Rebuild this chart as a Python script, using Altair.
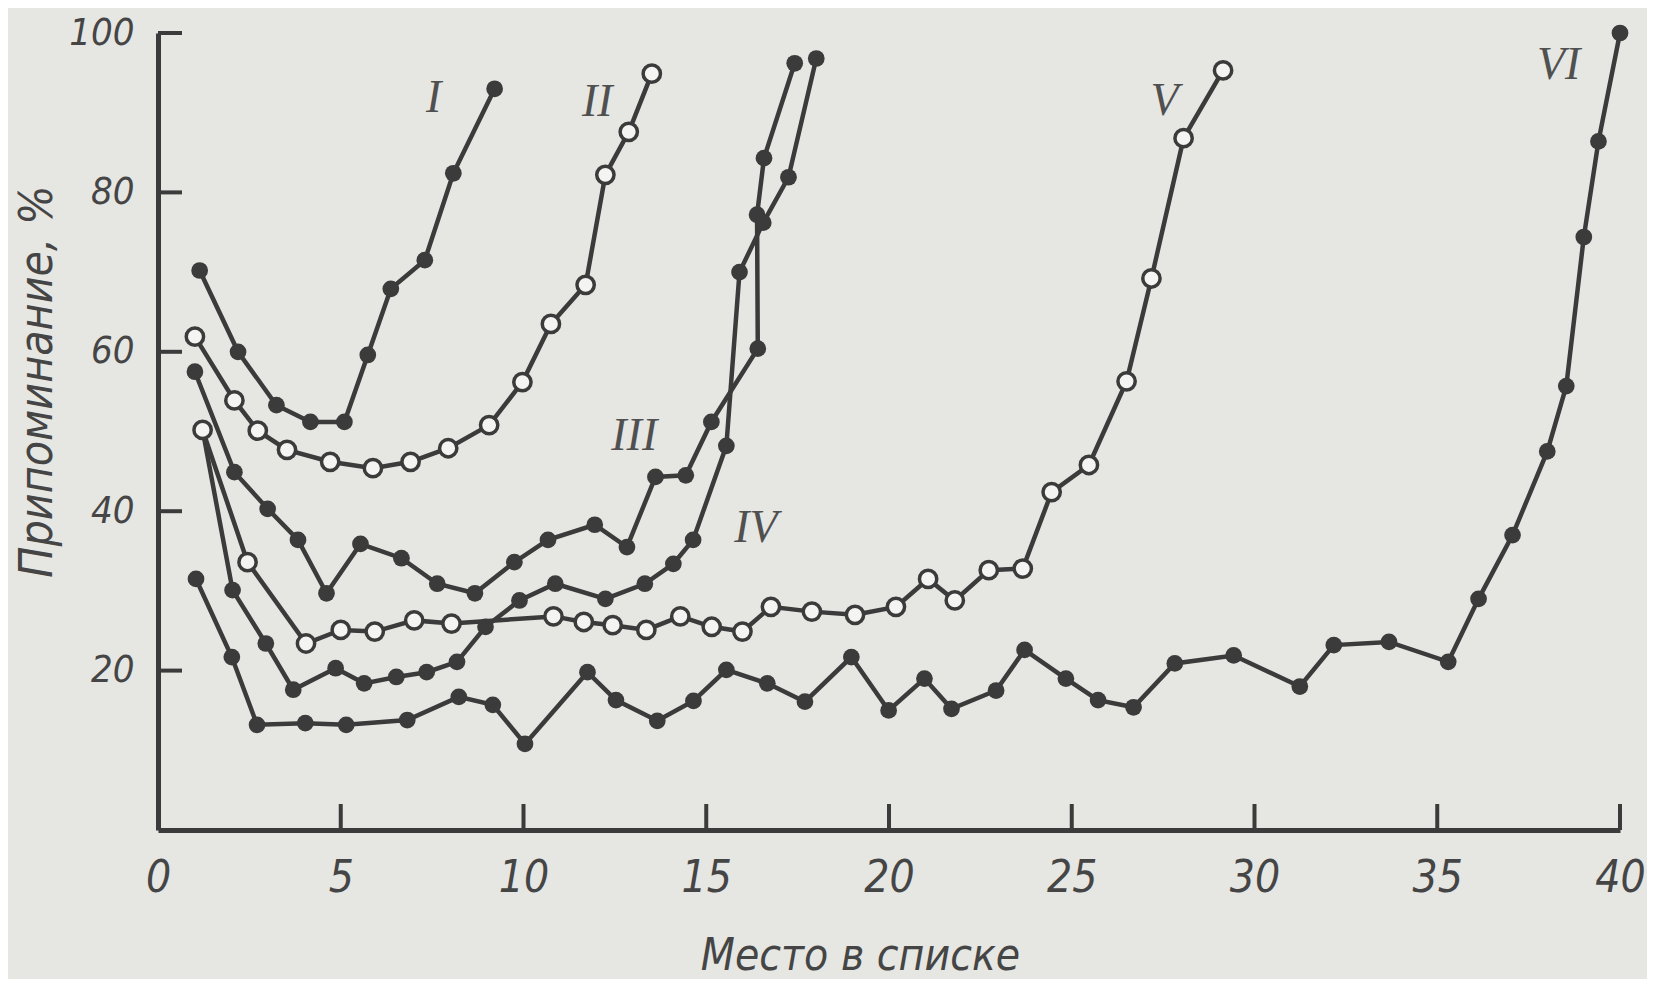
import altair as alt
import pandas as pd

# ---- data ----
I_x = [1.14, 2.19, 3.24, 4.17, 5.10, 5.74, 6.37, 7.30, 8.08, 9.21]
I_y = [70.2, 60.0, 53.3, 51.2, 51.2, 59.6, 67.9, 71.5, 82.4, 93.0]

II_x = [1.01, 2.09, 2.73, 3.53, 4.71, 5.88, 6.91, 7.94, 9.06, 9.97, 10.75, 11.70, 12.24, 12.88, 13.51]
II_y = [61.9, 53.9, 50.1, 47.7, 46.2, 45.4, 46.2, 47.9, 50.8, 56.2, 63.5, 68.4, 82.2, 87.6, 94.9]

III_x = [1.01, 2.09, 3.00, 3.83, 4.61, 5.54, 6.66, 7.64, 8.67, 9.75, 10.67, 11.95, 12.83,
         13.61, 14.44, 15.14, 16.41, 16.39, 16.58, 17.42]
III_y = [57.5, 44.9, 40.3, 36.4, 29.7, 35.9, 34.1, 30.9, 29.7, 33.6, 36.4, 38.3, 35.5,
         44.3, 44.5, 51.2, 60.4, 77.2, 84.3, 96.2]

IV_x = [1.22, 2.04, 2.95, 3.70, 4.86, 5.64, 6.52, 7.35, 8.18, 8.96, 9.89, 10.87, 12.24,
        13.32, 14.10, 14.64, 15.55, 15.91, 16.56, 17.25, 18.01]
IV_y = [50.2, 30.1, 23.4, 17.6, 20.3, 18.4, 19.2, 19.8, 21.1, 25.5, 28.8, 30.9, 29.0,
        30.9, 33.4, 36.4, 48.2, 70.0, 76.2, 81.9, 96.8]

V_x = [1.22, 2.45, 4.05, 5.00, 5.93, 7.01, 8.03, 10.82, 11.65, 12.44, 13.36, 14.29, 15.15,
       15.99, 16.77, 17.89, 19.07, 20.19, 21.07, 21.80, 22.73, 23.66, 24.45, 25.47, 26.50,
       27.18, 28.06, 29.14]
V_y = [50.2, 33.6, 23.4, 25.1, 24.9, 26.3, 25.9, 26.8, 26.1, 25.7, 25.1, 26.8, 25.5,
       24.9, 28.0, 27.4, 27.0, 28.0, 31.5, 28.8, 32.6, 32.8, 42.4, 45.8, 56.3,
       69.2, 86.8, 95.3]

VI_x = [1.04, 2.02, 2.71, 4.03, 5.15, 6.82, 8.23, 9.16, 10.04, 11.75, 12.53, 13.66, 14.65,
        15.55, 16.67, 17.70, 18.97, 19.99, 20.97, 21.71, 22.93, 23.71, 24.84, 25.72, 26.69,
        27.82, 29.43, 31.24, 32.17, 33.68, 35.30, 36.13, 37.06, 38.01, 38.53, 39.01, 39.41, 40.0]
VI_y = [31.5, 21.7, 13.2, 13.4, 13.2, 13.8, 16.7, 15.7, 10.8, 19.8, 16.3, 13.7, 16.2,
        20.1, 18.4, 16.1, 21.7, 15.0, 19.0, 15.2, 17.5, 22.6, 19.0, 16.3, 15.4,
        20.9, 21.9, 18.0, 23.2, 23.6, 21.1, 29.0, 37.0, 47.5, 55.7, 74.4, 86.4, 100.0]

LABELS = ["I", "II", "III", "IV", "V", "VI"]
LABEL_X = [7.54, 12.02, 13.03, 16.36, 27.54, 38.32]
LABEL_Y = [91.8, 91.4, 49.4, 37.9, 91.5, 96.0]

X_TICKS = [0, 5, 10, 15, 20, 25, 30, 35, 40]
Y_TICKS = [20, 40, 60, 80, 100]
X_INNER_TICKS = [5, 10, 15, 20, 25, 30, 35, 40]

# ---- build tables ----
series = [("I", I_x, I_y, "filled"), ("II", II_x, II_y, "open"),
          ("III", III_x, III_y, "filled"), ("IV", IV_x, IV_y, "filled"),
          ("V", V_x, V_y, "open"), ("VI", VI_x, VI_y, "filled")]
rows = []
for name, xs_, ys_, kind in series:
    for i, (xv, yv) in enumerate(zip(xs_, ys_)):
        rows.append(dict(series=name, idx=i, x=xv, y=yv, kind=kind))
df = pd.DataFrame(rows)
lab_df = pd.DataFrame(dict(label=LABELS, x=LABEL_X, y=LABEL_Y))
xt_df = pd.DataFrame(dict(v=X_INNER_TICKS))
yt_df = pd.DataFrame(dict(v=Y_TICKS))

INK = "#3b3b3b"
TXT = "#454545"
BG = "#e6e6e2"
NARROW = "'Liberation Sans Narrow', 'DejaVu Sans Condensed', 'Liberation Sans', sans-serif"
W, H = 1462, 797

xsc = alt.Scale(domain=[0, 40], nice=False, zero=False)
ysc = alt.Scale(domain=[0, 100], nice=False, zero=False)

xaxis = alt.Axis(values=X_TICKS, title="Место в списке", ticks=False, grid=False,
                 domainColor=INK, domainWidth=5, labelFont=NARROW, labelFontStyle="italic",
                 labelFontSize=44, labelColor=TXT, labelPadding=26, labelFlush=False,
                 labelOverlap=False, labelBound=False,
                 titleFont=NARROW, titleFontStyle="italic", titleFontSize=44,
                 titleFontWeight="normal", titleColor=TXT, titleX=702, titleY=104,
                 titleBaseline="top", titleAlign="center")
yaxis = alt.Axis(values=Y_TICKS, title="Припоминание, %", ticks=False, grid=False,
                 domainColor=INK, domainWidth=5, labelFont=NARROW, labelFontStyle="italic",
                 labelFontSize=38, labelColor=TXT, labelPadding=24, labelOverlap=False,
                 labelBound=False,
                 titleFont=NARROW, titleFontStyle="italic", titleFontSize=46,
                 titleFontWeight="normal", titleColor=TXT, titleX=-121, titleY=348,
                 titleAngle=-90, titleAlign="center", titleBaseline="middle")

X = alt.X("x:Q", scale=xsc, axis=xaxis)
Y = alt.Y("y:Q", scale=ysc, axis=yaxis)

lines = alt.Chart(df).mark_line(color=INK, strokeWidth=4.5).encode(
    x=X, y=Y, detail="series:N", order="idx:Q")

filled = alt.Chart(df).transform_filter(alt.datum.kind == "filled").mark_point(
    shape="circle", filled=True, color=INK, opacity=1, size=280).encode(x=X, y=Y)

opened = alt.Chart(df).transform_filter(alt.datum.kind == "open").mark_point(
    shape="circle", filled=True, fill="#f4f4f2", stroke=INK, strokeWidth=3.5,
    opacity=1, size=300).encode(x=X, y=Y)

labels = alt.Chart(lab_df).mark_text(
    font="'Liberation Serif', 'DejaVu Serif', serif", fontStyle="italic", fontSize=46,
    color="#505050", align="center", baseline="middle").encode(
    x=alt.X("x:Q", scale=xsc, axis=xaxis), y=alt.Y("y:Q", scale=ysc, axis=yaxis),
    text="label:N")

xticks = alt.Chart(xt_df).mark_rule(color=INK, strokeWidth=4).encode(
    x=alt.X("v:Q", scale=xsc, axis=xaxis), y=alt.value(H), y2=alt.value(H - 26))

yticks = alt.Chart(yt_df).mark_rule(color=INK, strokeWidth=4).encode(
    y=alt.Y("v:Q", scale=ysc, axis=yaxis), x=alt.value(0), x2=alt.value(24))

chart = alt.layer(xticks, yticks, lines, filled, opened, labels).properties(
    width=W, height=H,
    autosize=alt.AutoSizeParams(type="none"),
    padding={"left": 150, "top": 25, "right": 27, "bottom": 149},
    background=BG,
).configure_view(stroke=None)

chart.save("out.html", embed_options={"renderer": "svg", "actions": False})
